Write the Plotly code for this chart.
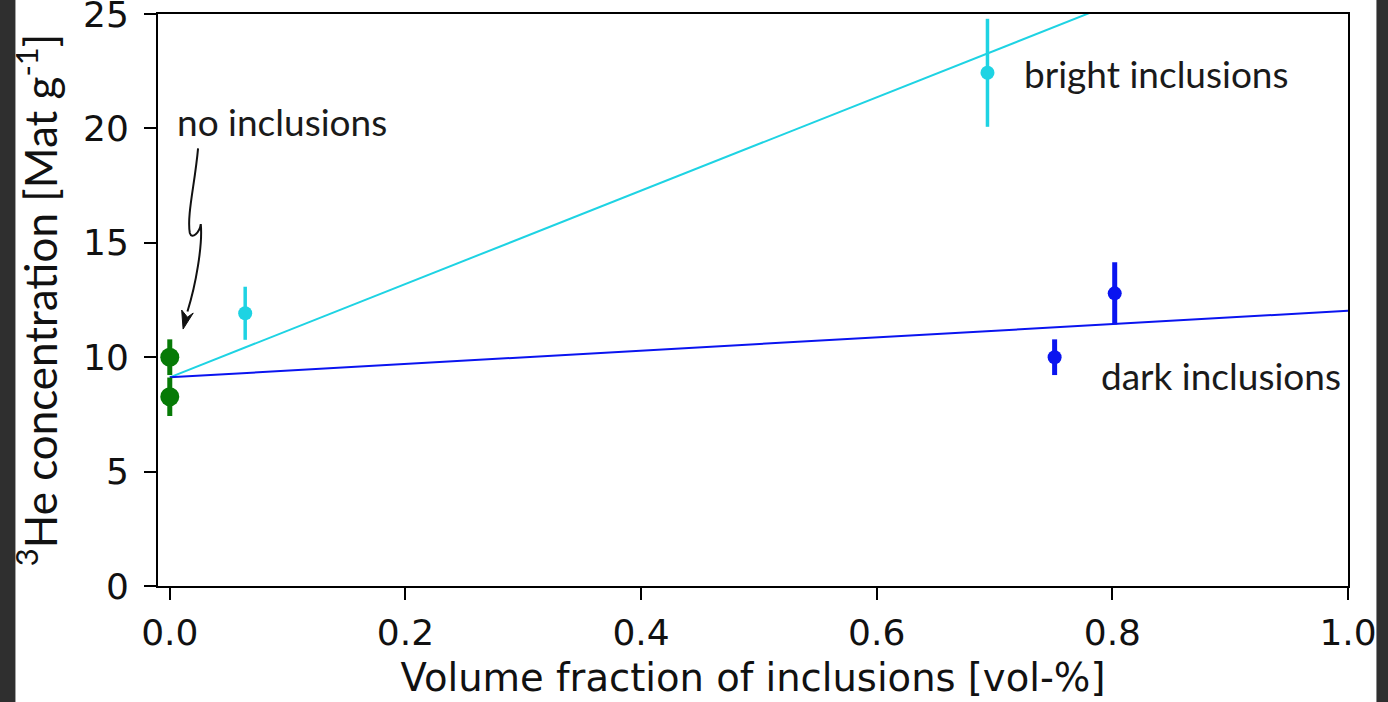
import plotly.graph_objects as go

# Measurements: volume fraction of inclusions [vol-%] vs 3He concentration [Mat/g]
none_x = [0.0, 0.0]
none_y = [10.0, 8.27]
none_err = [0.78, 0.84]

bright_x = [0.064, 0.694]
bright_y = [11.92, 22.43]
bright_err = [1.16, 2.36]

dark_x = [0.751, 0.802]
dark_y = [10.0, 12.79]
dark_err = [0.78, 1.36]

# Linear mixing lines from the inclusion-free value
fit_x = [0.0, 1.0]
bright_fit = [9.12, 29.52]
dark_fit = [9.12, 12.03]

x_ticks = [0.0, 0.2, 0.4, 0.6, 0.8, 1.0]
x_tick_text = ["0.0", "0.2", "0.4", "0.6", "0.8", "1.0"]
y_ticks = [0, 5, 10, 15, 20, 25]

CYAN = "#1ed3e3"
BLUE = "#0a14f0"
GREEN = "#067a06"

fig = go.Figure()

fig.add_trace(go.Scatter(
    x=fit_x, y=bright_fit, mode="lines",
    line=dict(color=CYAN, width=2), hoverinfo="skip"))
fig.add_trace(go.Scatter(
    x=fit_x, y=dark_fit, mode="lines",
    line=dict(color=BLUE, width=2), hoverinfo="skip"))

fig.add_trace(go.Scatter(
    x=none_x, y=none_y, mode="markers",
    marker=dict(color=GREEN, size=19),
    error_y=dict(type="data", array=none_err, color=GREEN, thickness=5, width=0)))
fig.add_trace(go.Scatter(
    x=bright_x, y=bright_y, mode="markers",
    marker=dict(color=CYAN, size=14),
    error_y=dict(type="data", array=bright_err, color=CYAN, thickness=3.5, width=0)))
fig.add_trace(go.Scatter(
    x=dark_x, y=dark_y, mode="markers",
    marker=dict(color=BLUE, size=14),
    error_y=dict(type="data", array=dark_err, color=BLUE, thickness=5, width=0)))

label_font = dict(family="Lato", size=37, color="#1a1a1a")
fig.add_annotation(x=0.0045, y=20.32, text="no inclusions", showarrow=False,
                   xanchor="left", yanchor="middle", font=label_font)
fig.add_annotation(x=0.723, y=22.38, text="bright inclusions", showarrow=False,
                   xanchor="left", yanchor="middle", font=label_font)
fig.add_annotation(x=0.789, y=9.18, text="dark inclusions", showarrow=False,
                   xanchor="left", yanchor="middle", font=label_font)

# Hand-drawn curly arrow pointing at the inclusion-free samples
fig.add_shape(
    type="path", xref="x", yref="y", layer="above",
    path=("M 0.0240,19.13 C 0.0212,17.53 0.0144,16.21 0.0170,15.43 "
          "C 0.0187,15.12 0.0255,15.47 0.0263,15.82 "
          "C 0.0280,14.90 0.0221,13.16 0.0150,12.00"),
    line=dict(color="#111111", width=2))
fig.add_shape(
    type="path", xref="x", yref="y", layer="above",
    path="M 0.0113,11.23 L 0.0101,12.06 L 0.0150,11.75 L 0.0199,11.93 Z",
    fillcolor="#111111", line=dict(color="#111111", width=1))

# Dark frame strips at the page edges
for x0, x1 in [(-0.16, -0.1198), (1.0239, 1.06)]:
    fig.add_shape(type="rect", xref="paper", yref="paper", layer="above",
                  x0=x0, x1=x1, y0=-0.3, y1=1.1,
                  fillcolor="#2f2f2f", line=dict(width=0))

axis_common = dict(
    showgrid=False, zeroline=False, showline=True, mirror=True,
    linecolor="black", linewidth=2, ticks="outside", ticklen=12,
    tickwidth=2, tickcolor="black", ticklabeloverflow="allow",
    automargin=False,
    tickfont=dict(family="DejaVu Sans", size=36, color="#111111"),
)

fig.update_xaxes(
    range=[-0.01, 1.0], tickvals=x_ticks, ticktext=x_tick_text,
    ticklabelstandoff=2,
    title=dict(text="Volume fraction of inclusions [vol-%]",
               font=dict(family="DejaVu Sans", size=38.5, color="#111111"),
               standoff=12),
    **axis_common)
fig.update_yaxes(
    range=[0, 25], tickvals=y_ticks, ticklabelstandoff=8,
    title=dict(text="<sup>3</sup>He concentration [Mat g<sup>-1</sup>]",
               font=dict(family="Lato", size=44, color="#111111"),
               standoff=12),
    **axis_common)

fig.update_layout(
    width=1388, height=702,
    margin=dict(l=158, r=40, t=14, b=116),
    paper_bgcolor="white", plot_bgcolor="white",
    showlegend=False,
)

fig.write_html("out.html")
